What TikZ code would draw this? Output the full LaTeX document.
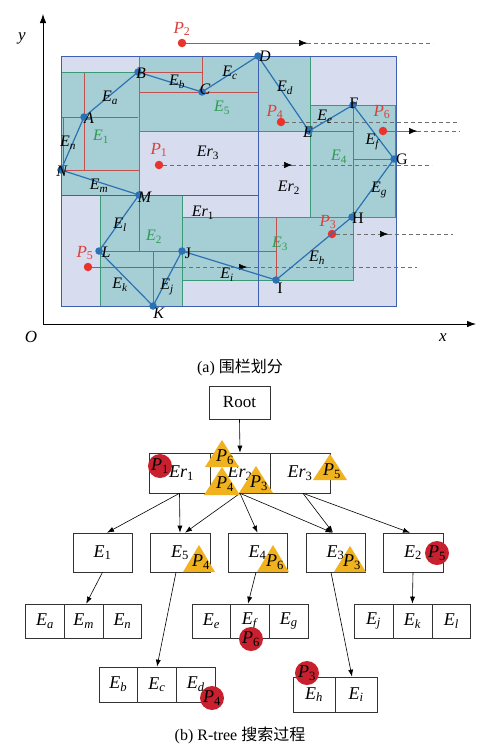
\documentclass[tikz,border=0pt]{standalone}
\usepackage{fontspec}
\setmainfont{Liberation Serif}
\newfontfamily\cjk{Noto Sans CJK SC}
\usetikzlibrary{arrows.meta}
\definecolor{lav}{HTML}{D7DDEF}
\definecolor{tealf}{HTML}{A6CED5}
\definecolor{bbord}{HTML}{3E5EAE}
\definecolor{gbord}{HTML}{3A9A78}
\definecolor{rline}{HTML}{C4504E}
\definecolor{egreen}{HTML}{2F9A52}
\definecolor{pred}{HTML}{D9403A}
\definecolor{pdot}{HTML}{E8342C}
\definecolor{polyc}{HTML}{2B72B4}
\definecolor{gline}{HTML}{6E6E6E}
\definecolor{tred}{HTML}{C8202E}
\definecolor{tor}{HTML}{F0B21E}
\newcommand\lb[2]{\textit{#1}\textsubscript{#2}}
\begin{document}
\begin{tikzpicture}[x=1pt,y=-1pt,
  lab/.style={font=\fontsize{16}{18}\selectfont, inner sep=0pt},
  plab/.style={font=\fontsize{17}{19}\selectfont, text=pred, inner sep=0pt},
  elab/.style={font=\fontsize{16}{18}\selectfont, text=egreen, inner sep=0pt},
  tl/.style={font=\fontsize{18}{20}\selectfont, inner sep=0pt},
  box/.style={draw=black!80, line width=0.6pt, fill=white, font=\fontsize{18}{20}\selectfont, inner sep=0pt},
  tarr/.style={-{Latex[length=7pt,width=5pt]}, line width=0.6pt},
  garr/.style={-{Latex[length=8pt,width=6.5pt]}, black, line width=0.6pt},
  gsol/.style={draw=gline, line width=0.6pt},
  gdash/.style={draw=gline, line width=0.6pt, dash pattern=on 4pt off 3pt},
  rl/.style={draw=rline, line width=0.6pt},
  vdot/.style={circle, fill=polyc, inner sep=0pt, minimum size=7.5pt},
  pdt/.style={circle, fill=pdot, inner sep=0pt, minimum size=8.5pt},
  tcirc/.style={circle, fill=tred, inner sep=0pt, minimum size=24pt},
  tri/.style={fill=tor}
]
\useasboundingbox (0,0) rectangle (482,753);
\fill[white] (0,0) rectangle (482,753);

% ---------- (a) ----------
\fill[lav] (61,56) rectangle (396,306);
\fill[tealf] (61,72) rectangle (139,195);   % E1
\fill[tealf] (139,56) rectangle (310,131);  % E5
\fill[tealf] (310,105) rectangle (395,217); % E4
\fill[tealf] (182,217) rectangle (353,280); % E3
\fill[tealf] (100,195) rectangle (182,306); % E2
% red segment boxes
\draw[rl] (62,117) -- (138,117);
\draw[rl] (84,72) -- (84,170);
\draw[rl] (63,117) -- (63,170);
\draw[rl] (62,170) -- (139,170);
\draw[rl] (139,72) -- (202,72);
\draw[rl] (202,56) -- (202,92);
\draw[rl] (139,92) -- (258,92);
\draw[rl] (310,131) -- (353,131);
\draw[rl] (353,105) -- (353,217);
\draw[rl] (353,159) -- (395,159);
\draw[rl] (139,195) -- (139,251);
\draw[rl] (100,251) -- (276,251);
\draw[rl] (153,251) -- (153,306);
\draw[rl] (276,217) -- (276,280);
% green E boxes
\draw[gbord, line width=0.7pt] (61,72) rectangle (139,195);
\draw[gbord, line width=0.7pt] (139,56) rectangle (310,131);
\draw[gbord, line width=0.7pt] (310,105) rectangle (395,217);
\draw[gbord, line width=0.7pt] (182,217) rectangle (353,280);
\draw[gbord, line width=0.7pt] (100,195) rectangle (182,306);
% blue Er boxes
\draw[bbord, line width=0.9pt] (61,56) rectangle (396,306);
\draw[bbord, line width=0.9pt] (258,56) -- (258,306);
\draw[bbord, line width=0.9pt] (61,195) -- (258,195);
% axes
\coordinate (O) at (43,324);
\coordinate (xe) at (476,324);
\coordinate (ye) at (43,14);
\draw[-{Latex[length=9pt,width=6.5pt]}, line width=0.8pt] (O) -- (xe);
\draw[-{Latex[length=9pt,width=6.5pt]}, line width=0.8pt] (O) -- (ye);
\node[lab, font=\fontsize{17}{19}\selectfont\itshape] (ylab) at (22,38) {y};
\node[lab, font=\fontsize{17}{19}\selectfont\itshape] (olab) at (31,337) {O};
\node[lab, font=\fontsize{17}{19}\selectfont\itshape] (xlab) at (443,338) {x};
% query points
\node[pdt] (P1) at (159,165) {};
\node[pdt] (P2) at (182,43) {};
\node[pdt] (P3) at (332,234) {};
\node[pdt] (P4) at (281,122) {};
\node[pdt] (P5) at (88,267) {};
\node[pdt] (P6) at (383,131) {};
\coordinate (a2) at (307,43);  \coordinate (e2) at (433,43);
\coordinate (a1) at (292,165); \coordinate (e1) at (432,165);
\coordinate (e4) at (460,122);
\coordinate (a6) at (417,131); \coordinate (e6) at (460,131);
\coordinate (a3) at (388,234); \coordinate (e3) at (453,234);
\coordinate (m5) at (182,267); \coordinate (a5) at (247,267); \coordinate (e5) at (417,267);
\draw[gsol] (P2) -- (a2); \draw[garr] ([xshift=-8pt]a2) -- (a2); \draw[gdash] (a2) -- (e2);
\draw[gdash] (P1) -- (a1); \draw[garr] ([xshift=-8pt]a1) -- (a1); \draw[gdash] (a1) -- (e1);
\draw[gdash] (P4) -- (e4);
\draw[gsol] (P6) -- (a6); \draw[garr] ([xshift=-8pt]a6) -- (a6); \draw[gdash] (a6) -- (e6);
\draw[gdash] (P3) -- (a3); \draw[garr] ([xshift=-8pt]a3) -- (a3); \draw[gdash] (a3) -- (e3);
\draw[gsol] (P5) -- (m5); \draw[gdash] (m5) -- (a5); \draw[garr] ([xshift=-8pt]a5) -- (a5); \draw[gdash] (a5) -- (e5);
% polyline
\coordinate (A) at (84,117); \coordinate (B) at (138,72); \coordinate (C) at (202,92);
\coordinate (D) at (258,56); \coordinate (E) at (309,131); \coordinate (F) at (353,105);
\coordinate (G) at (394,159); \coordinate (H) at (352,217); \coordinate (I) at (276,280);
\coordinate (J) at (182,251); \coordinate (K) at (153,306); \coordinate (L) at (99,251);
\coordinate (M) at (139,195); \coordinate (N) at (61,170);
\draw[polyc, line width=1.2pt, line join=round] (N) -- (A) -- (B) -- (C) -- (D) -- (E) -- (F) -- (G) -- (H) -- (I) -- (J) -- (K) -- (L) -- (M) -- cycle;
\foreach \v in {A,B,C,D,E,F,G,H,I,J,K,L,M,N} \node[vdot] (dot\v) at (\v) {};
% vertex labels
\node[lab] (tA) at (89,118) {\textit{A}};
\node[lab] (tB) at (141,73) {\textit{B}};
\node[lab] (tC) at (205,89) {\textit{C}};
\node[lab] (tD) at (265,56) {\textit{D}};
\node[lab] (tE) at (308,132) {\textit{E}};
\node[lab] (tF) at (354,103) {F};
\node[lab] (tG) at (402,159) {G};
\node[lab] (tH) at (358,218) {H};
\node[lab] (tI) at (280,288) {I};
\node[lab] (tJ) at (188,253) {J};
\node[lab] (tK) at (159,313) {\textit{K}};
\node[lab] (tL) at (106,252) {\textit{L}};
\node[lab] (tM) at (145,197) {\textit{M}};
\node[lab] (tN) at (62,171) {\textit{N}};
% edge labels
\node[lab] (lEa) at (110,98) {\lb{E}{\textit{a}}};
\node[lab] (lEb) at (177,82) {\lb{E}{\textit{b}}};
\node[lab] (lEc) at (230,73) {\lb{E}{\textit{c}}};
\node[lab] (lEd) at (285,88) {\lb{E}{\textit{d}}};
\node[lab] (lEe) at (325,117) {\lb{E}{\textit{e}}};
\node[lab] (lEf) at (373,142) {\lb{E}{\textit{f}}};
\node[lab] (lEg) at (379,190) {\lb{E}{\textit{g}}};
\node[lab] (lEh) at (317,258) {\lb{E}{\textit{h}}};
\node[lab] (lEi) at (227,275) {\lb{E}{\textit{i}}};
\node[lab] (lEj) at (167,287) {\lb{E}{\textit{j}}};
\node[lab] (lEk) at (120,285) {\lb{E}{\textit{k}}};
\node[lab] (lEl) at (120,225) {\lb{E}{\textit{l}}};
\node[lab] (lEm) at (99,186) {\lb{E}{\textit{m}}};
\node[lab] (lEn) at (68,143) {\lb{E}{\textit{n}}};
% region labels
\node[lab] (lEr1) at (203,213) {\lb{Er}{1}};
\node[lab] (lEr2) at (289,188) {\lb{Er}{2}};
\node[lab] (lEr3) at (208,153) {\lb{Er}{3}};
\node[elab] (lE1) at (101,137) {\lb{E}{1}};
\node[elab] (lE2) at (154,237) {\lb{E}{2}};
\node[elab] (lE3) at (280,244) {\lb{E}{3}};
\node[elab] (lE4) at (339,157) {\lb{E}{4}};
\node[elab] (lE5) at (222,108) {\lb{E}{5}};
% P labels
\node[plab] (lP1) at (159,150) {\lb{P}{1}};
\node[plab] (lP2) at (182,29) {\lb{P}{2}};
\node[plab] (lP3) at (328,222) {\lb{P}{3}};
\node[plab] (lP4) at (275,112) {\lb{P}{4}};
\node[plab] (lP5) at (85,253) {\lb{P}{5}};
\node[plab] (lP6) at (382,112) {\lb{P}{6}};
\node[font=\fontsize{16}{18}\selectfont] (capa) at (240,367) {(a) {\cjk 围栏划分}};

% ---------- (b) ----------
\node[box, minimum width=61pt, minimum height=33pt, font=\fontsize{17}{19}\selectfont] (root) at (239.5,402.5) {Root};
\node[box, minimum width=61pt, minimum height=40pt] (er1) at (179.5,473) {\hspace{4pt}\lb{Er}{1}};
\node[box, minimum width=60pt, minimum height=40pt] (er2) at (240,473) {\lb{Er}{2}};
\node[box, minimum width=60pt, minimum height=40pt] (er3) at (300,473) {\lb{Er}{3}\hspace{10pt}};
\node[box, minimum width=59pt, minimum height=39pt] (bE1) at (102.5,552.5) {\lb{E}{1}};
\node[box, minimum width=60pt, minimum height=39pt] (bE5) at (180,552.5) {\lb{E}{5}\hspace{6pt}};
\node[box, minimum width=59pt, minimum height=39pt] (bE4) at (257.5,552.5) {\lb{E}{4}\hspace{6pt}};
\node[box, minimum width=59pt, minimum height=39pt] (bE3) at (335.5,552.5) {\lb{E}{3}\hspace{6pt}};
\node[box, minimum width=60pt, minimum height=39pt] (bE2) at (413,552.5) {\lb{E}{2}\hspace{10pt}};
\node[box, minimum width=38.7pt, minimum height=34pt] (cEa) at (45,621) {\lb{E}{\textit{a}}};
\node[box, minimum width=38.7pt, minimum height=34pt] (cEm) at (83.7,621) {\lb{E}{\textit{m}}};
\node[box, minimum width=38.7pt, minimum height=34pt] (cEn) at (122.4,621) {\lb{E}{\textit{n}}};
\node[box, minimum width=38.7pt, minimum height=34pt] (cEe) at (211.3,621) {\lb{E}{\textit{e}}};
\node[box, minimum width=38.7pt, minimum height=34pt] (cEf) at (250,621) {\lb{E}{\textit{f}}};
\node[box, minimum width=38.7pt, minimum height=34pt] (cEg) at (288.7,621) {\lb{E}{\textit{g}}};
\node[box, minimum width=38.9pt, minimum height=34pt] (cEj) at (373.5,621) {\lb{E}{\textit{j}}};
\node[box, minimum width=38.9pt, minimum height=34pt] (cEk) at (412.4,621) {\lb{E}{\textit{k}}};
\node[box, minimum width=38.9pt, minimum height=34pt] (cEl) at (451.3,621) {\lb{E}{\textit{l}}};
\node[box, minimum width=38.7pt, minimum height=35pt] (cEb) at (118.3,684.5) {\lb{E}{\textit{b}}};
\node[box, minimum width=38.7pt, minimum height=35pt] (cEc) at (157,684.5) {\lb{E}{\textit{c}}};
\node[box, minimum width=38.7pt, minimum height=35pt] (cEd) at (195.7,684.5) {\lb{E}{\textit{d}}\hspace{4pt}};
\node[box, minimum width=42pt, minimum height=35pt] (cEh) at (314,694.5) {\lb{E}{\textit{h}}};
\node[box, minimum width=42pt, minimum height=35pt] (cEi) at (356,694.5) {\lb{E}{\textit{i}}};
% tree arrows
\draw[tarr] (root.south) -- (er2.north);
\draw[tarr] (er1.south) -- ([xshift=4.5pt]bE1.north);
\draw[tarr] (er1.south) -- (bE5.north);
\draw[tarr] (er2.south) -- ([xshift=5pt]bE5.north);
\draw[tarr] (er2.south) -- (bE4.north);
\draw[tarr] (er2.south) -- ([xshift=-3pt]bE3.north);
\draw[tarr] ([xshift=3pt]er3.south) -- ([xshift=-2.5pt]bE3.north);
\draw[tarr] ([xshift=3pt]er3.south) -- ([xshift=-3pt]bE2.north);
\draw[tarr] (bE1.south) -- ([xshift=2.5pt]cEm.north);
\draw[tarr] ([xshift=-4pt]bE5.south) -- (cEc.north);
\draw[tarr] ([xshift=-1.5pt]bE4.south) -- ([xshift=-2pt]cEf.north);
\draw[tarr] ([xshift=-4.5pt]bE3.south) -- ([xshift=-4pt]cEi.north);
\draw[tarr] (bE2.south) -- (cEk.north);
% markers on tree
\node[tcirc] (cP1) at (160,466) {};
\node[tl] at (cP1) {\lb{P}{1}};
\fill[tri] (222,440) -- (239,467) -- (205,467) -- cycle;
\node[tl] (tP6) at (225,457) {\lb{P}{6}};
\fill[tri] (222,467) -- (240,495) -- (204,495) -- cycle;
\node[tl] (tP4) at (225,484) {\lb{P}{4}};
\fill[tri] (256,466) -- (273,493) -- (239,493) -- cycle;
\node[tl] (tP3) at (259,483) {\lb{P}{3}};
\fill[tri] (330,454) -- (347,480) -- (313,480) -- cycle;
\node[tl] (tP5) at (332,471) {\lb{P}{5}};
\fill[tri] (199,545) -- (215,572) -- (183,572) -- cycle;
\node[tl] (tbP4) at (201,562) {\lb{P}{4}};
\fill[tri] (273,545) -- (289,572) -- (257,572) -- cycle;
\node[tl] (tbP6) at (275,562) {\lb{P}{6}};
\fill[tri] (350,546) -- (366,572) -- (334,572) -- cycle;
\node[tl] (tbP3) at (352,562) {\lb{P}{3}};
\node[tcirc] (cP5) at (437,553) {};
\node[tl] at (cP5) {\lb{P}{5}};
\node[tcirc] (cP6) at (251,639) {};
\node[tl] at (cP6) {\lb{P}{6}};
\node[tcirc] (cP4) at (212,698) {};
\node[tl] at (cP4) {\lb{P}{4}};
\node[tcirc] (cP3) at (307,673) {};
\node[tl] at (cP3) {\lb{P}{3}};
\node[font=\fontsize{16}{18}\selectfont] (capb) at (240,735) {(b) R-tree {\cjk 搜索过程}};
\end{tikzpicture}
\end{document}
